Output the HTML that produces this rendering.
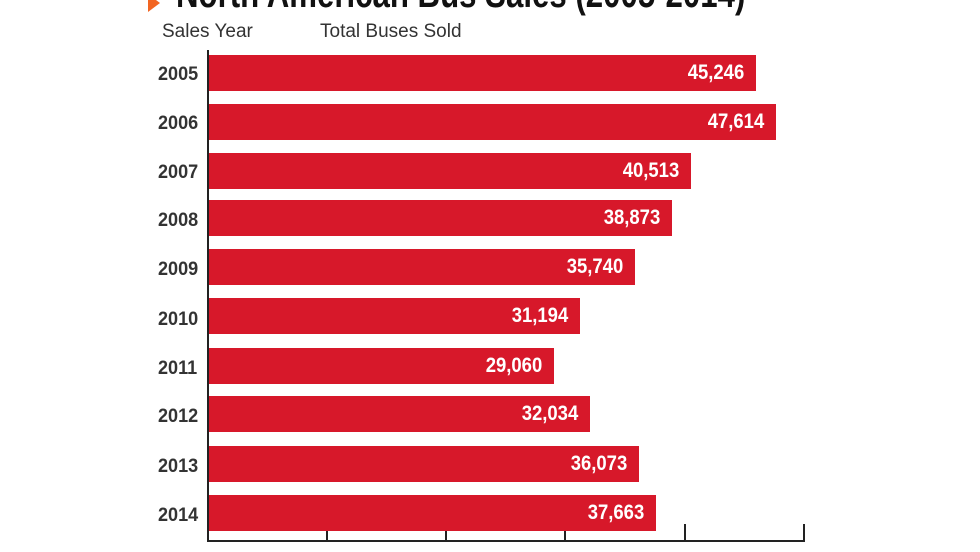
<!DOCTYPE html>
<html><head><meta charset="utf-8"><style>
html,body{margin:0;padding:0;background:#fff;}
body{width:980px;height:552px;overflow:hidden;position:relative;font-family:"Liberation Sans Narrow","Liberation Sans",sans-serif;}
.t{position:absolute;white-space:nowrap;}
.bar{position:absolute;left:209px;height:36px;background:#d7182a;}
.v{position:absolute;right:12px;top:5px;color:#fff;font-weight:bold;font-size:21px;line-height:26px;transform:scaleX(0.88);transform-origin:right center;}
.y{position:absolute;left:158px;font-size:19px;color:#333;font-weight:bold;transform:scaleX(0.95);transform-origin:left center;}
</style></head><body>
<div class="t" style="left:148px;top:-6px;width:0;height:0;border-top:9px solid transparent;border-bottom:9px solid transparent;border-left:12px solid #f26522;"></div>
<div class="t" style="left:176px;top:-28px;font-size:40px;font-weight:bold;color:#111;transform:scaleX(0.78);transform-origin:left top;">North American Bus Sales (2005-2014)</div>
<div class="t" style="left:162px;top:21px;font-size:19px;color:#333;">Sales Year</div>
<div class="t" style="left:320px;top:21px;font-size:19px;color:#333;">Total Buses Sold</div>
<div class="t" style="left:207px;top:50px;width:2px;height:492px;background:#222;"></div>
<div class="t" style="left:207px;top:540px;width:598px;height:2px;background:#222;"></div>
<div class="t" style="left:326px;top:524px;width:2px;height:17px;background:#222;"></div>
<div class="t" style="left:445px;top:524px;width:2px;height:17px;background:#222;"></div>
<div class="t" style="left:564px;top:524px;width:2px;height:17px;background:#222;"></div>
<div class="t" style="left:684px;top:524px;width:2px;height:17px;background:#222;"></div>
<div class="t" style="left:803px;top:524px;width:2px;height:17px;background:#222;"></div>

<div class="y" style="top:64px">2005</div><div class="bar" style="top:55px;width:547px"><span class="v">45,246</span></div>
<div class="y" style="top:113px">2006</div><div class="bar" style="top:104px;width:567px"><span class="v">47,614</span></div>
<div class="y" style="top:162px">2007</div><div class="bar" style="top:153px;width:482px"><span class="v">40,513</span></div>
<div class="y" style="top:210px">2008</div><div class="bar" style="top:200px;width:463px"><span class="v">38,873</span></div>
<div class="y" style="top:259px">2009</div><div class="bar" style="top:249px;width:426px"><span class="v">35,740</span></div>
<div class="y" style="top:309px">2010</div><div class="bar" style="top:298px;width:371px"><span class="v">31,194</span></div>
<div class="y" style="top:358px">2011</div><div class="bar" style="top:348px;width:345px"><span class="v">29,060</span></div>
<div class="y" style="top:406px">2012</div><div class="bar" style="top:396px;width:381px"><span class="v">32,034</span></div>
<div class="y" style="top:456px">2013</div><div class="bar" style="top:446px;width:430px"><span class="v">36,073</span></div>
<div class="y" style="top:505px">2014</div><div class="bar" style="top:495px;width:447px"><span class="v">37,663</span></div>
</body></html>
